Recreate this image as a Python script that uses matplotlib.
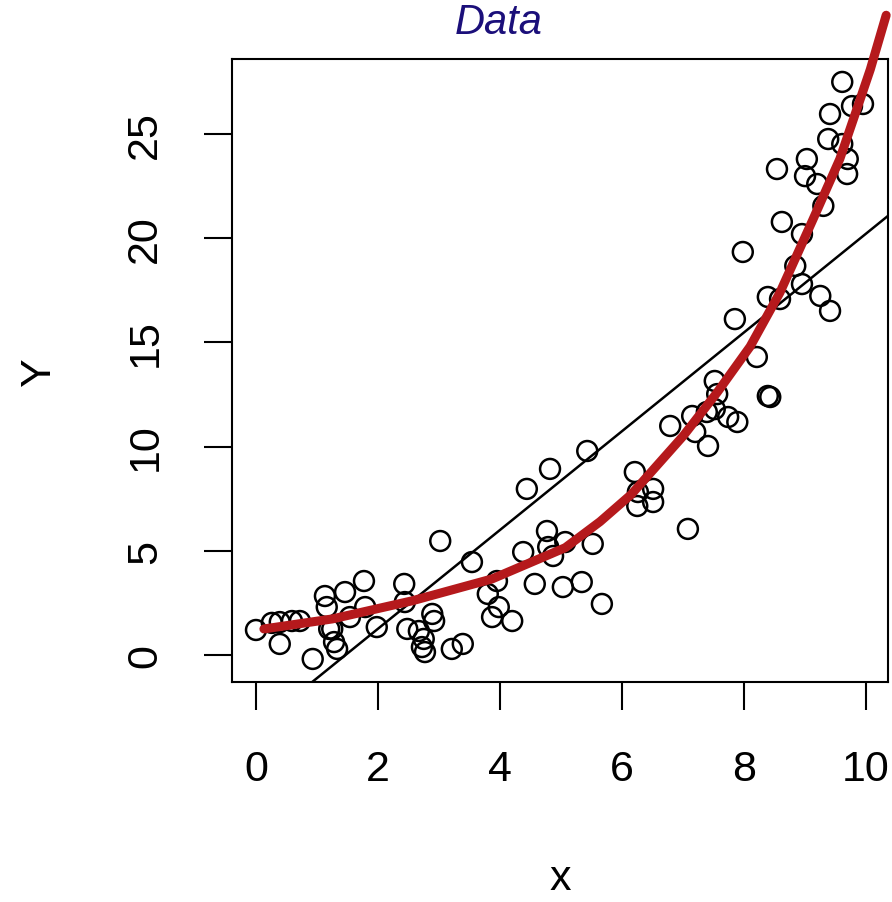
import matplotlib
matplotlib.use('Agg')
import matplotlib.pyplot as plt

# scatter of x vs Y with a straight line fit and a curved fit on top

x_vals = [0.00, 0.26, 0.39, 0.59, 0.72, 0.39, 0.93, 1.13, 1.16, 1.20,
          1.25, 1.28, 1.33, 1.46, 1.77, 1.54, 1.79, 1.98, 2.43, 2.44,
          2.48, 2.67, 2.75, 2.89, 2.92, 2.72, 2.77, 3.21, 3.39, 3.02,
          3.54, 4.44, 4.82, 5.43, 3.95, 3.80, 3.98, 4.20, 3.87, 4.38,
          4.77, 4.79, 4.87, 5.07, 5.52, 4.57, 5.03, 5.34, 5.67, 7.98,
          8.84, 8.39, 8.59, 7.85, 8.21, 8.39, 8.43, 7.52, 7.56, 6.79,
          7.15, 7.20, 7.39, 7.52, 7.74, 7.89, 7.41, 6.21, 6.26, 6.51,
          6.51, 6.25, 7.08, 9.61, 9.77, 9.95, 9.41, 9.38, 9.61, 9.70,
          9.69, 9.03, 9.00, 9.20, 8.54, 9.30, 8.62, 8.95, 8.95, 9.25,
          9.41]
y_vals = [1.20, 1.54, 1.58, 1.63, 1.63, 0.53, -0.19, 2.83, 2.30, 1.25,
          1.25, 0.62, 0.29, 3.02, 3.55, 1.82, 2.30, 1.34, 3.41, 2.54,
          1.25, 1.15, 0.77, 1.97, 1.63, 0.38, 0.14, 0.29, 0.53, 5.47,
          4.46, 7.97, 8.93, 9.79, 3.55, 2.93, 2.30, 1.63, 1.82, 4.94,
          5.95, 5.18, 4.75, 5.42, 5.33, 3.41, 3.26, 3.50, 2.45, 19.34,
          18.67, 17.18, 17.08, 16.12, 14.30, 12.43, 12.38, 13.15, 12.52, 10.99,
          11.47, 10.70, 11.66, 11.80, 11.42, 11.18, 10.03, 8.78, 7.82, 7.97,
          7.34, 7.15, 6.05, 27.50, 26.34, 26.44, 25.96, 24.76, 24.52, 23.80,
          23.08, 23.80, 22.98, 22.60, 23.32, 21.55, 20.78, 20.20, 17.80, 17.23,
          16.51]

# straight line fit
line_intercept = -3.48
line_slope = 2.37

# curved fit
curve_x = [0.13, 1.25, 2.56, 3.87, 5.07, 5.64, 6.15, 7.00, 7.56, 8.10,
           8.59, 9.13, 9.57, 9.85, 10.07, 10.33]
curve_y = [1.25, 1.73, 2.60, 3.65, 5.15, 6.40, 7.70, 10.50, 12.60, 14.80,
           17.40, 20.90, 23.80, 26.20, 28.10, 30.70]

x_ticks = [0, 2, 4, 6, 8, 10]
y_ticks = [0, 5, 10, 15, 20, 25]

plt.rcParams['font.family'] = ['Liberation Sans', 'DejaVu Sans']

fig = plt.figure(figsize=(8.92, 9.03), dpi=100)
ax = fig.add_axes([232/892, (903-683)/903, (888-232)/892, (683-60)/903])

ax.scatter(x_vals, y_vals, s=205, facecolors='none', edgecolors='black',
           linewidths=1.8, zorder=2)
ax.axline((0, line_intercept), slope=line_slope, color='black', lw=1.8, zorder=3)
ax.plot(curve_x, curve_y, color='#b5191c', lw=6.5, solid_capstyle='round',
        clip_on=False, zorder=4)

ax.set_xlim(-0.393, 10.36)
ax.set_ylim(-1.296, 28.6)
ax.set_xticks(x_ticks)
ax.set_yticks(y_ticks)
ax.set_yticklabels([str(t) for t in y_ticks], rotation=90, va='center')

for s in ax.spines.values():
    s.set_linewidth(1.5)

ax.tick_params(direction='out', length=20, width=1.5, labelsize=31, pad=28)

ax.set_xlabel('x', fontsize=31, labelpad=50)
ax.set_ylabel('Y', fontsize=31, labelpad=48)

# handwritten note at the top
fig.text(455/892, (903-34)/903, 'Data', fontsize=30, color='#1b0f7a',
         style='italic', ha='left', va='baseline')

fig.savefig('out.png', dpi=100)
